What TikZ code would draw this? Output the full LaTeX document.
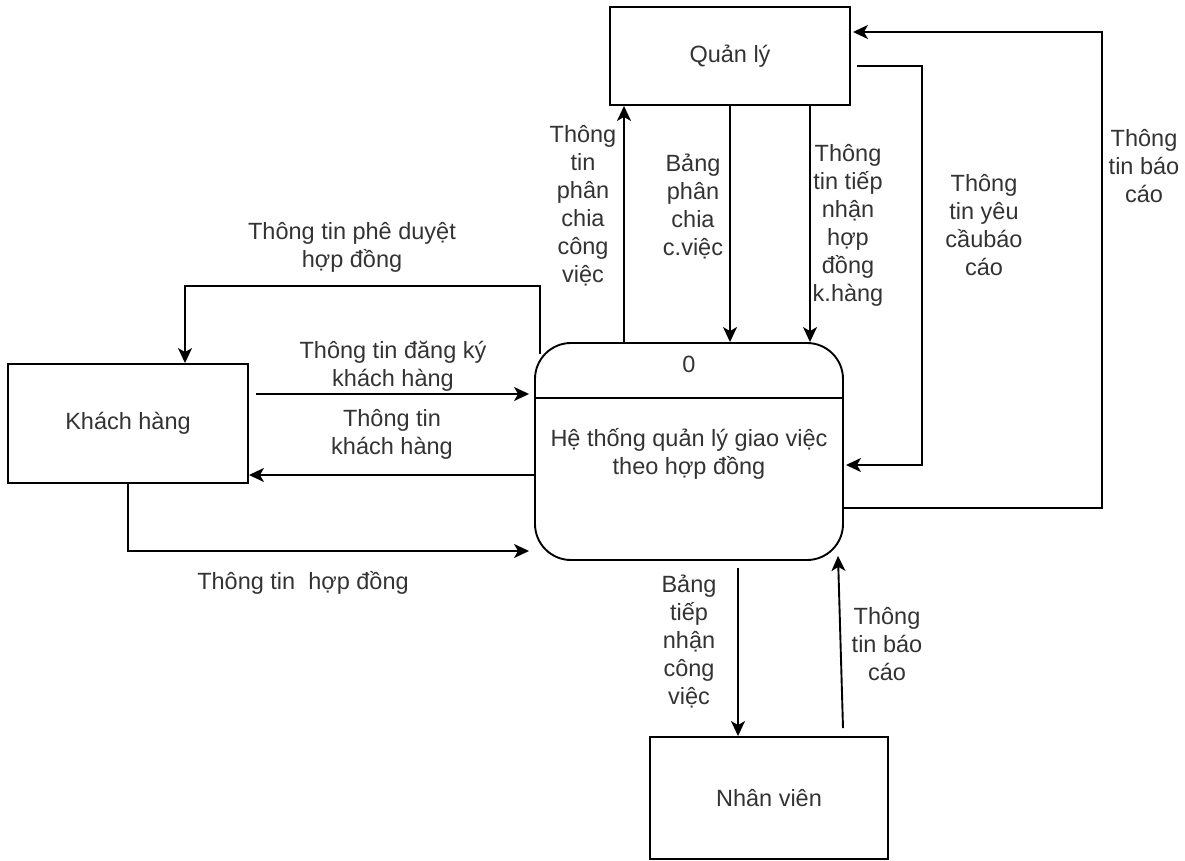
\documentclass[tikz,border=0pt]{standalone}
\usepackage{fontspec}
\setmainfont{Liberation Sans}
\usetikzlibrary{arrows.meta}
\tikzset{
  entity/.style={rectangle,draw,line width=1.9pt,minimum width=240pt,minimum height=98pt,inner sep=0pt},
  process/.style={rectangle,draw,line width=1.9pt,rounded corners=36pt,minimum width=308pt,minimum height=217pt},
  flow/.style={line width=1.9pt,-{Stealth[length=15pt,width=14pt,inset=4pt]}},
  lbl/.style={align=center,inner sep=0pt}
}
\begin{document}
\begin{tikzpicture}[x=1pt,y=-1pt,font=\fontsize{23.5}{28}\selectfont,text=black!80]
\useasboundingbox (0,0) rectangle (1185,861);
\path (730,56) node(ql)[entity]{Quản lý}
(128,423.5) node(kh)[entity,minimum height=119pt]{Khách hàng}
(769,798) node(nv)[entity,minimum width=238pt,minimum height=122pt]{Nhân viên}
(689,451.5) node(ht)[process]{}
(689,364) node(so)[lbl]{0}
(689,454) node(ten)[lbl]{Hệ thống quản lý giao việc\\theo hợp đồng};
\draw[line width=1.9pt]([yshift=-56pt]ht.north west)--([yshift=-56pt]ht.north east);
%nhan cho cac luong
\path (583,206) node(l1)[lbl]{Thông\\tin\\phân\\chia\\công\\việc}
(693,207) node(l2)[lbl]{Bảng\\phân\\chia\\c.việc}
(848,225) node(l3)[lbl]{Thông\\tin tiếp\\nhận\\hợp\\đồng\\k.hàng}
(984,225) node(l4)[lbl]{Thông\\tin yêu\\cầubáo\\cáo}
(1144,166) node(l5)[lbl]{Thông\\tin báo\\cáo}
(352,247) node(l6)[lbl]{Thông tin phê duyệt\\hợp đồng}
(393,366) node(l7)[lbl]{Thông tin đăng ký\\khách hàng}
(392,434) node(l8)[lbl]{Thông tin\\khách hàng}
(303,583) node(l9)[lbl]{Thông tin\ \ hợp đồng}
(689,642) node(l10)[lbl]{Bảng\\tiếp\\nhận\\công\\việc}
(887,644) node(l11)[lbl]{Thông\\tin báo\\cáo};
\draw[flow](ht.north)++(-65pt,0)--([xshift=-106pt]ql.south);
\draw[flow](ql.south)--([xshift=41pt]ht.north);
\draw[flow]([xshift=80pt]ql.south)--([xshift=121pt]ht.north);
\draw[flow]([xshift=6pt,yshift=-10pt]ql.east)-|([xshift=78pt,yshift=-13.5pt]ht.east)--([xshift=2pt,yshift=-13.5pt]ht.east);
\draw[flow]([yshift=-56.5pt]ht.east)-|([xshift=251pt,yshift=24pt]ql.east)--([xshift=2pt,yshift=24pt]ql.east);
\draw[flow]([xshift=6pt,yshift=-12pt]ht.north west)|-([xshift=57pt,yshift=77pt]kh.north)--([xshift=57pt]kh.north);
\draw[flow]([xshift=7pt,yshift=29.5pt]kh.east)--([xshift=-5pt,yshift=57.5pt]ht.west);
\draw[flow]([yshift=-23.5pt]ht.west)--([yshift=-51.5pt]kh.east);
\draw[flow](kh.south)|-([xshift=-5pt,yshift=-99.5pt]ht.west);
\draw[flow]([xshift=49pt,yshift=-7pt]ht.south)--([xshift=-31pt]nv.north);
\draw[flow]([xshift=74pt,yshift=8pt]nv.north)--([xshift=149pt,yshift=5pt]ht.south);

\end{tikzpicture}
\end{document}
